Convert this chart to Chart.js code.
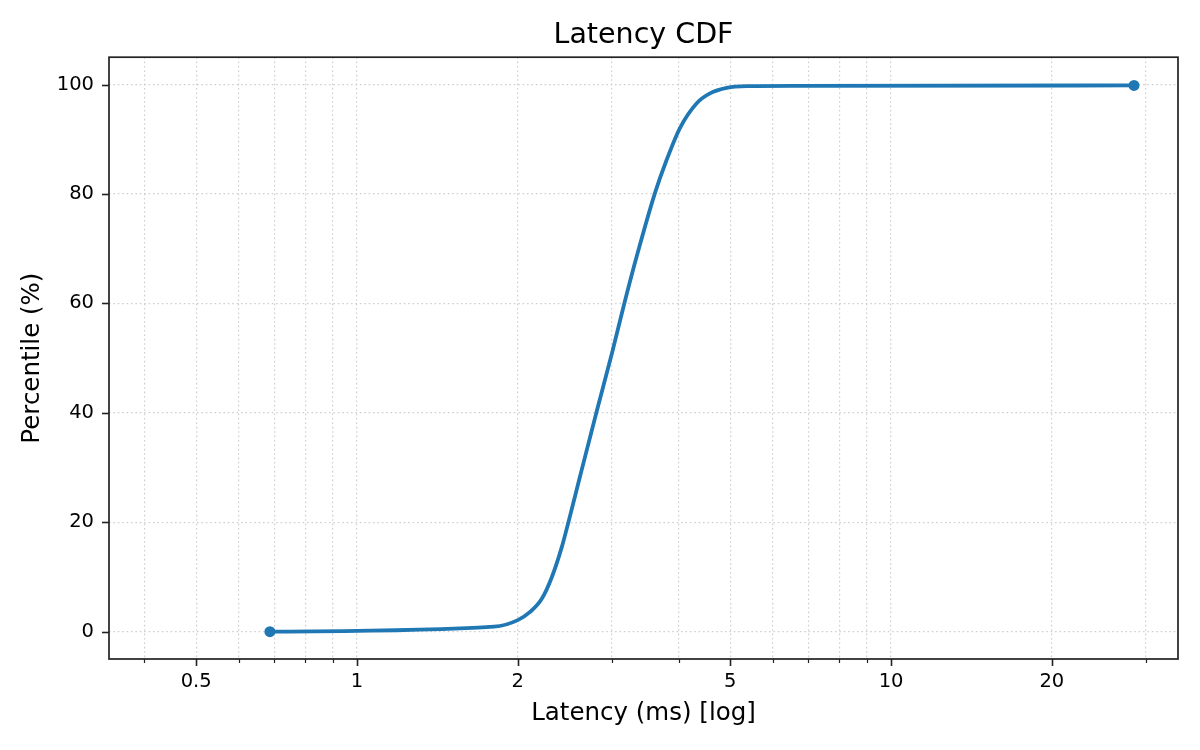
<!DOCTYPE html>
<html>
<head>
<meta charset="utf-8">
<script src="https://cdn.jsdelivr.net/npm/chart.js@4/dist/chart.umd.min.js"></script>
<style>
  html, body { margin: 0; padding: 0; background: #fff; }
  #wrap { width: 1200px; height: 750px; }
</style>
</head>
<body>
<div id="wrap"><canvas id="chart" width="1200" height="750"></canvas></div>
<script>
// latency (ms) vs percentile
const latencyMs = [0.687, 1.806, 2.0, 2.109, 2.218, 2.315, 2.417, 2.488, 2.616, 2.811, 3.0,
  3.153, 3.34, 3.614, 3.802, 4.026, 4.326, 4.58, 4.925, 5.37, 6.75, 28.5]
const percentile = [0, 0.9, 2.1, 3.6, 6.0, 9.9, 15.4, 20.0, 28.4, 40.3, 50.8,
  59.3, 68.6, 80.2, 86.3, 92.1, 96.6, 98.4, 99.4, 99.7, 99.75, 99.85]

// axis ticks
const xTicks = [0.4, 0.5, 0.6, 0.7, 0.8, 0.9, 1, 2, 3, 4, 5, 6, 7, 8, 9, 10, 20, 30]
const xTickLabels = [0.5, 1, 2, 5, 10, 20]
const yTicks = [0, 20, 40, 60, 80, 100]

const FONT = "'DejaVu Sans', sans-serif"
const BLUE = '#1f77b4'

// spines + tick marks, drawn like matplotlib (minor ticks shorter)
const frame = {
  id: 'frame',
  afterDraw(chart) {
    const ctx = chart.ctx
    const a = chart.chartArea
    const xs = chart.scales.x, ys = chart.scales.y
    ctx.save()
    ctx.strokeStyle = '#222'
    xs.ticks.forEach(t => {
      const px = Math.round(xs.getPixelForValue(t.value)) + 0.5
      const major = xTickLabels.includes(t.value)
      ctx.lineWidth = major ? 1.6 : 1.2
      ctx.beginPath()
      ctx.moveTo(px, a.bottom)
      ctx.lineTo(px, a.bottom + (major ? 7 : 4))
      ctx.stroke()
    })
    ctx.lineWidth = 1.6
    ys.ticks.forEach(t => {
      const py = Math.round(ys.getPixelForValue(t.value)) + 0.5
      ctx.beginPath()
      ctx.moveTo(a.left - 7, py)
      ctx.lineTo(a.left, py)
      ctx.stroke()
    })
    ctx.lineWidth = 1.7
    ctx.strokeRect(a.left, a.top, a.right - a.left, a.bottom - a.top)
    ctx.restore()
  }
}

const lastIdx = latencyMs.length - 1

new Chart(document.getElementById('chart').getContext('2d'), {
  type: 'line',
  data: {
    datasets: [{
      label: 'Latency CDF',
      data: latencyMs.map((x, i) => ({ x: x, y: percentile[i] })),
      borderColor: BLUE,
      backgroundColor: BLUE,
      borderWidth: 3.8,
      cubicInterpolationMode: 'monotone',
      pointRadius: ctx => (ctx.dataIndex === 0 || ctx.dataIndex === lastIdx) ? 5.5 : 0,
      pointBorderWidth: 0,
      fill: false
    }]
  },
  options: {
    responsive: false,
    animation: false,
    devicePixelRatio: 1,
    layout: { padding: { left: 0, right: 22, top: 0, bottom: 0 } },
    plugins: {
      legend: { display: false },
      tooltip: { enabled: false },
      title: {
        display: true,
        text: 'Latency CDF',
        fullSize: false,
        color: '#000',
        font: { family: FONT, size: 28.5, weight: 'normal' },
        padding: { top: 18, bottom: 5 }
      }
    },
    scales: {
      x: {
        type: 'logarithmic',
        bounds: 'data',
        min: 0.3433,
        max: 34.45,
        afterBuildTicks: s => { s.ticks = xTicks.map(v => ({ value: v })) },
        afterFit: s => { s.height = 91 },
        ticks: {
          autoSkip: false,
          maxRotation: 0,
          padding: 4,
          color: '#000',
          font: { family: FONT, size: 19.5 },
          callback: v => xTickLabels.includes(v) ? String(v) : ''
        },
        grid: { color: '#cfcfcf', lineWidth: 1.2, drawTicks: true, tickLength: 7, tickColor: 'rgba(0,0,0,0)' },
        border: { display: false, dash: [1.6, 2.8] },
        title: {
          display: true,
          text: 'Latency (ms) [log]',
          color: '#000',
          font: { family: FONT, size: 24.5 },
          padding: { top: 0, bottom: 22 }
        }
      },
      y: {
        type: 'linear',
        min: -5,
        max: 105,
        afterBuildTicks: s => { s.ticks = yTicks.map(v => ({ value: v })) },
        afterFit: s => { s.width = 109 },
        ticks: {
          padding: 8,
          color: '#000',
          font: { family: FONT, size: 19.5 }
        },
        grid: { color: '#cfcfcf', lineWidth: 1.2, drawTicks: true, tickLength: 7, tickColor: 'rgba(0,0,0,0)' },
        border: { display: false, dash: [1.6, 2.8] },
        title: {
          display: true,
          text: 'Percentile (%)',
          color: '#000',
          font: { family: FONT, size: 24.5 },
          padding: { top: 18, bottom: 0 }
        }
      }
    }
  },
  plugins: [frame]
})
</script>
</body>
</html>
